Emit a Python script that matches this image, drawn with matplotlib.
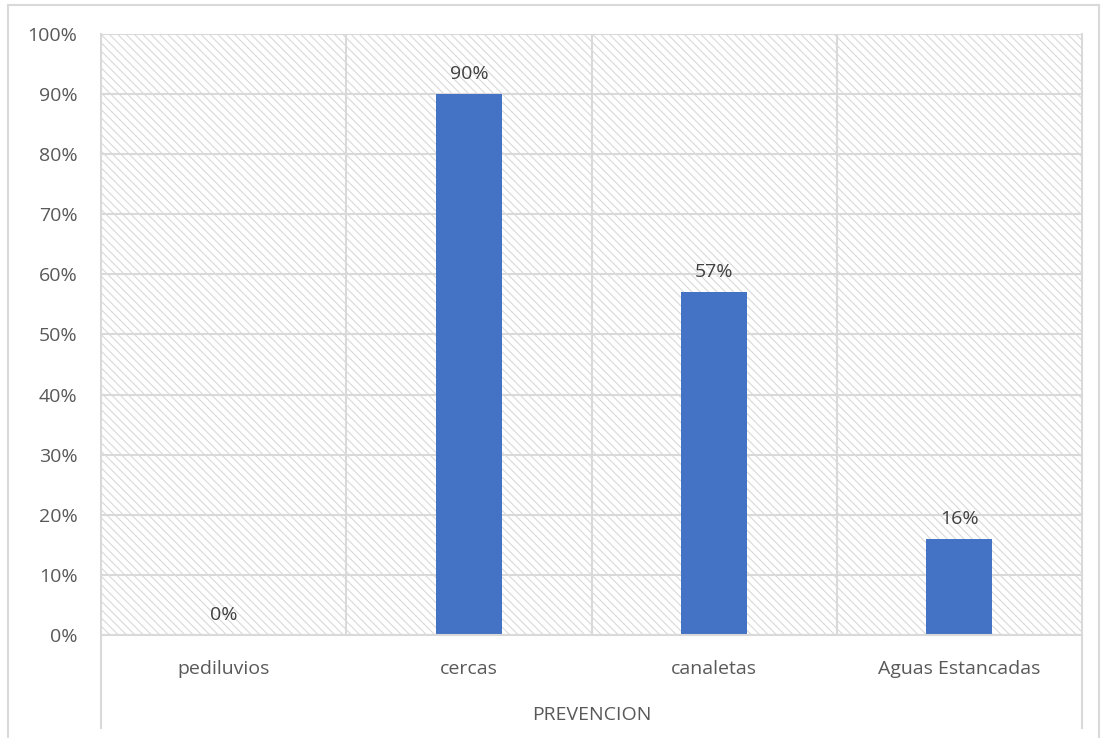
import matplotlib.pyplot as plt
import numpy as np
from matplotlib.patches import Rectangle
from matplotlib.lines import Line2D

categories = ["pediluvios", "cercas", "canaletas", "Aguas Estancadas"]
values = [0.0, 0.90, 0.57, 0.16]
value_labels = ["0%", "90%", "57%", "16%"]
y_ticks = np.arange(0, 1.01, 0.1)
y_tick_labels = [f"{int(round(t * 100))}%" for t in y_ticks]
axis_title = "PREVENCION"

grid_col = "#d9d9d9"
text_col = "#595959"
bar_col = "#4472C4"

plt.rcParams["font.family"] = ["Open Sans", "DejaVu Sans"]
plt.rcParams["hatch.color"] = grid_col
plt.rcParams["hatch.linewidth"] = 0.8

fig = plt.figure(figsize=(11.02, 7.38), dpi=100)
W, H = 1102, 738
ax = fig.add_axes([101 / W, 1 - 635 / H, (1082 - 101) / W, (635 - 34) / H])

# fondo rayado del área de trazado
ax.add_patch(Rectangle((0, 0), 1, 1, transform=ax.transAxes, facecolor="white",
                       edgecolor=grid_col, hatch="\\" * 4, lw=0, zorder=0))

x = np.arange(len(categories))
ax.bar(x, values, width=0.27, color=bar_col, zorder=3)

fs = 14
for xi, v, lab in zip(x, values, value_labels):
    ax.annotate(lab, (xi, v), xytext=(0, 8), textcoords="offset points",
                ha="center", va="bottom", fontsize=fs, color="#404040", zorder=4)

ax.set_xlim(-0.5, len(categories) - 0.5)
ax.set_ylim(0, 1.0)
ax.set_yticks(y_ticks)
ax.set_yticklabels(y_tick_labels)
ax.set_xticks(x)
ax.set_xticklabels(categories)
ax.tick_params(axis="both", length=0, labelsize=fs, labelcolor=text_col)
ax.tick_params(axis="y", pad=17)
ax.tick_params(axis="x", pad=18)

for t in y_ticks:
    ax.axhline(t, color=grid_col, lw=1.5, zorder=1)
for b in np.arange(0.5, len(categories) - 0.5, 1):
    ax.axvline(b, color=grid_col, lw=1.5, zorder=1)

for s in ax.spines.values():
    s.set_visible(False)

# líneas de los bordes del eje de categorías, que bajan hasta abajo
for xp in (101, 1082):
    fig.add_artist(Line2D([xp / W, xp / W], [1 - 34 / H, 1 - 728 / H],
                          transform=fig.transFigure, color=grid_col, lw=1.5))
fig.add_artist(Line2D([101 / W, 1082 / W], [1 - 635 / H, 1 - 635 / H],
                      transform=fig.transFigure, color=grid_col, lw=1.5))

fig.text((101 + 1082) / 2 / W, 1 - 715 / H, axis_title, ha="center", va="center",
         fontsize=fs, color=text_col)

# marco exterior del gráfico
fig.add_artist(Rectangle((8 / W, -0.01), (1099 - 8) / W, 1 - 5 / H + 0.01,
                         transform=fig.transFigure, fill=False,
                         edgecolor=grid_col, lw=1.5))

fig.savefig("out.png", dpi=100)
